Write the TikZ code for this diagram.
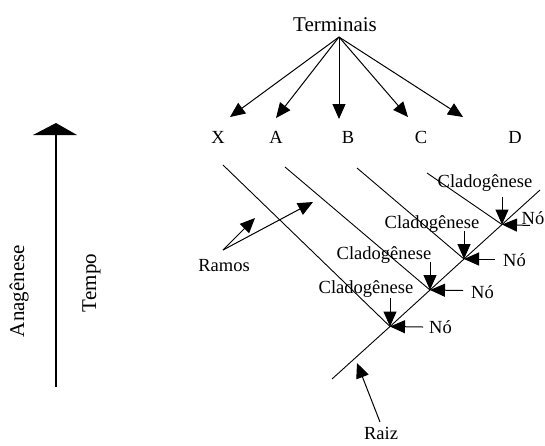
\documentclass[tikz,border=0pt]{standalone}
\usepackage{fontspec}
\setmainfont{Liberation Serif}
\usetikzlibrary{arrows.meta}
\begin{document}
\begin{tikzpicture}[x=1pt,y=-1pt,
  lbl/.style={inner sep=0pt, anchor=base, font=\fontsize{18.5}{22}\selectfont},
  lbll/.style={lbl, anchor=base west},
  big/.style={inner sep=0pt, anchor=base, font=\fontsize{21}{25}\selectfont},
  ln/.style={line width=0.9pt},
  arr/.style={line width=1pt, -{Triangle[length=15pt,width=13pt]}},
]
\useasboundingbox (0,0) rectangle (545,445);

% Terminais
\node[big] (term) at (335,31) {Terminais};
\coordinate (tsrc) at (339,37);
\coordinate (tX) at (230,117);
\coordinate (tA) at (276,118);
\coordinate (tB) at (339,119);
\coordinate (tC) at (408,117);
\coordinate (tD) at (463,117);
\foreach \t in {tX,tA,tB,tC,tD} \draw[arr] (tsrc) -- (\t);

\node[lbl] (X) at (218,143) {X};
\node[lbl] (A) at (276,143) {A};
\node[lbl] (B) at (348,143) {B};
\node[lbl] (C) at (421,143) {C};
\node[lbl] (D) at (515,143) {D};

% tree
\coordinate (stemtop) at (540,190);
\coordinate (n4) at (502,224.5);
\coordinate (n3) at (464,259);
\coordinate (n2) at (430,290);
\coordinate (n1) at (390,326.5);
\coordinate (root) at (332,379);
\draw[ln] (stemtop) -- (n4) -- (n3) -- (n2) -- (n1) -- (root);

\coordinate (bX) at (223,165);
\coordinate (bA) at (285,167);
\coordinate (bC) at (357,168);
\coordinate (bD) at (427,173);
\draw[ln] (bX) -- (n1);
\draw[ln] (bA) -- (n2);
\draw[ln] (bC) -- (n3);
\draw[ln] (bD) -- (n4);

% Cladogenese labels and arrows
\node[lbl] (c4) at (485,187) {Cladogênese};
\node[lbl] (c3) at (432,228) {Cladogênese};
\node[lbl] (c2) at (384,259) {Cladogênese};
\node[lbl] (c1) at (366,293) {Cladogênese};
\coordinate (c4s) at (502,197);
\coordinate (c3s) at (464,231);
\coordinate (c2s) at (430,262);
\coordinate (c1s) at (390,298);
\draw[arr] (c4s) -- (n4);
\draw[arr] (c3s) -- (n3);
\draw[arr] (c2s) -- (n2);
\draw[arr] (c1s) -- (n1);

% No labels and arrows
\node[lbll] (no4) at (521.5,224) {Nó};
\node[lbll] (no3) at (503,266) {Nó};
\node[lbll] (no2) at (471,298) {Nó};
\node[lbll] (no1) at (429,333) {Nó};
\coordinate (no4s) at (530,225.5);
\coordinate (no3s) at (495,259);
\coordinate (no2s) at (463,290.5);
\coordinate (no1s) at (423,327);
\draw[arr] (no4s) -- (n4);
\draw[arr] (no3s) -- (n3);
\draw[arr] (no2s) -- (n2);
\draw[arr] (no1s) -- (n1);

% Ramos
\node[lbl] (ramos) at (224,271) {Ramos};
\coordinate (rs) at (223,250);
\coordinate (r1) at (255,218);
\coordinate (r2) at (313,202);
\draw[arr] (rs) -- (r1);
\draw[arr] (rs) -- (r2);

% Raiz
\node[lbl] (raiz) at (381,439) {Raiz};
\coordinate (rzs) at (380,422);
\coordinate (rzt) at (357,363);
\draw[arr] (rzs) -- (rzt);

% Time axis
\coordinate (tbot) at (56,387);
\coordinate (ttop) at (56,123);
\draw[line width=1.2pt] (tbot) -- (56,135);
\fill (33,135) -- (ttop) -- (77,135) -- cycle;
\node[big, rotate=90] (ana) at (24,291) {Anagênese};
\node[big, rotate=90] (tempo) at (96,283) {Tempo};
\end{tikzpicture}
\end{document}
